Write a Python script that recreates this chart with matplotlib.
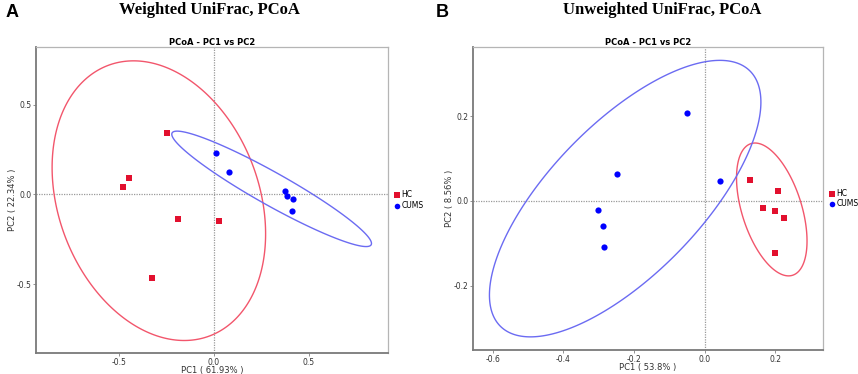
import numpy as np
import matplotlib.pyplot as plt
from matplotlib.patches import Polygon

# PCoA coordinates
# panel A - weighted UniFrac
a_hc_pc1 = [-0.247, -0.446, -0.479, -0.191, 0.026, -0.327]
a_hc_pc2 = [0.341, 0.091, 0.041, -0.136, -0.147, -0.468]
a_cums_pc1 = [0.012, 0.079, 0.372, 0.386, 0.416, 0.411]
a_cums_pc2 = [0.228, 0.125, 0.021, -0.011, -0.024, -0.093]

# panel B - unweighted UniFrac
b_hc_pc1 = [0.129, 0.209, 0.167, 0.199, 0.225, 0.200]
b_hc_pc2 = [0.050, 0.023, -0.017, -0.024, -0.040, -0.124]
b_cums_pc1 = [-0.051, 0.043, -0.247, -0.302, -0.289, -0.284]
b_cums_pc2 = [0.209, 0.047, 0.063, -0.021, -0.059, -0.109]

groups = ['HC', 'CUMS']
marker_colors = ['#e2102e', '#0000ff']
ellipse_colors = ['#f2566c', '#6b6bf2']
markers = ['s', 'o']

F95_2_5 = 5.786  # qf(0.95, 2, 5), six samples per group


def cov_trob(pts, nu=5, maxit=25, tol=0.01):
    """multivariate t robust estimate (same idea as MASS::cov.trob)"""
    n, p = pts.shape
    loc = pts.mean(axis=0)
    w = np.ones(n)
    for it in range(maxit):
        w0 = w
        X = pts - loc
        _, d, vt = np.linalg.svd(np.sqrt(w / w.sum())[:, None] * X, full_matrices=False)
        wX = X @ vt.T @ np.diag(1 / d)
        Q = (wX ** 2).sum(axis=1)
        w = (nu + p) / (nu + Q)
        loc = (w[:, None] * pts).sum(axis=0) / w.sum()
        if np.all(np.abs(w - w0) < tol):
            break
    cov = (np.sqrt(w)[:, None] * X).T @ (np.sqrt(w)[:, None] * X) / n
    return cov, loc


def stat_ellipse(ax, x, y, color, segments=400):
    pts = np.column_stack([x, y])
    cov, center = cov_trob(pts)
    radius = np.sqrt(2 * F95_2_5)
    t = np.linspace(0, 2 * np.pi, segments, endpoint=False)
    circle = np.column_stack([np.cos(t), np.sin(t)])
    R = np.linalg.cholesky(cov).T  # upper triangular, cov = R'R
    ell = center + radius * circle @ R
    ax.add_patch(Polygon(ell, closed=True, fill=False, ec=color, lw=1.0, zorder=2))


def pcoa_panel(ax, hc, cums, xlab, ylab, xlim, ylim, xticks, yticks):
    ax.axhline(0, color='#9a9a9a', lw=0.9, ls=(0, (1, 1)), zorder=1)
    ax.axvline(0, color='#9a9a9a', lw=0.9, ls=(0, (1, 1)), zorder=1)
    for (px, py), mc, ec, m, g in zip([hc, cums], marker_colors, ellipse_colors, markers, groups):
        stat_ellipse(ax, px, py, ec)
        ax.scatter(px, py, marker=m, s=20, color=mc, label=g, zorder=3, linewidths=0)
    ax.set_xlim(xlim)
    ax.set_ylim(ylim)
    ax.set_xticks(xticks)
    ax.set_yticks(yticks)
    ax.set_xticklabels(['%.1f' % t for t in xticks])
    ax.set_yticklabels(['%.1f' % t for t in yticks])
    ax.tick_params(labelsize=5.5, length=2, width=0.6, color='#808080',
                   labelcolor='#333333', pad=1.5)
    ax.set_xlabel(xlab, fontsize=6, color='#333333')
    ax.set_ylabel(ylab, fontsize=6, color='#333333')
    ax.xaxis.set_label_coords(0.5, -0.042)
    ax.yaxis.set_label_coords(-0.054, 0.5)
    ax.set_title('PCoA - PC1 vs PC2', fontsize=6, fontweight='bold', pad=1.5)
    for s in ['left', 'bottom']:
        ax.spines[s].set_color('#7a7a7a')
        ax.spines[s].set_linewidth(1.3)
    for s in ['top', 'right']:
        ax.spines[s].set_color('#b5b5b5')
        ax.spines[s].set_linewidth(0.9)
    ax.legend(loc='center left', bbox_to_anchor=(1.0, 0.5), frameon=False,
              fontsize=5.5, handletextpad=0.1, borderaxespad=0.3,
              labelspacing=0.2, handlelength=1, markerscale=0.9)


fig = plt.figure(figsize=(8.58, 3.74), dpi=100)
ax1 = fig.add_axes([0.042, 0.056, 0.410, 0.818])
ax2 = fig.add_axes([0.5517, 0.0642, 0.4072, 0.8093])

pcoa_panel(ax1, (a_hc_pc1, a_hc_pc2), (a_cums_pc1, a_cums_pc2),
           'PC1 ( 61.93% )', 'PC2 ( 22.34% )',
           (-0.937, 0.916), (-0.885, 0.821), [-0.5, 0.0, 0.5], [-0.5, 0.0, 0.5])
pcoa_panel(ax2, (b_hc_pc1, b_hc_pc2), (b_cums_pc1, b_cums_pc2),
           'PC1 ( 53.8% )', 'PC2 ( 8.56% )',
           (-0.655, 0.335), (-0.352, 0.363), [-0.6, -0.4, -0.2, 0.0, 0.2], [-0.2, 0.0, 0.2])

fig.text(0.007, 0.967, 'A', fontsize=13, fontweight='bold', va='center', family='Liberation Sans')
fig.text(0.508, 0.967, 'B', fontsize=13, fontweight='bold', va='center', family='Liberation Sans')
fig.text(209 / 858, 0.972, 'Weighted UniFrac, PCoA', fontsize=12, fontweight='bold',
         ha='center', va='center', family='Liberation Serif')
fig.text(662 / 858, 0.972, 'Unweighted UniFrac, PCoA', fontsize=12, fontweight='bold',
         ha='center', va='center', family='Liberation Serif')

fig.savefig('out.png', dpi=100)
